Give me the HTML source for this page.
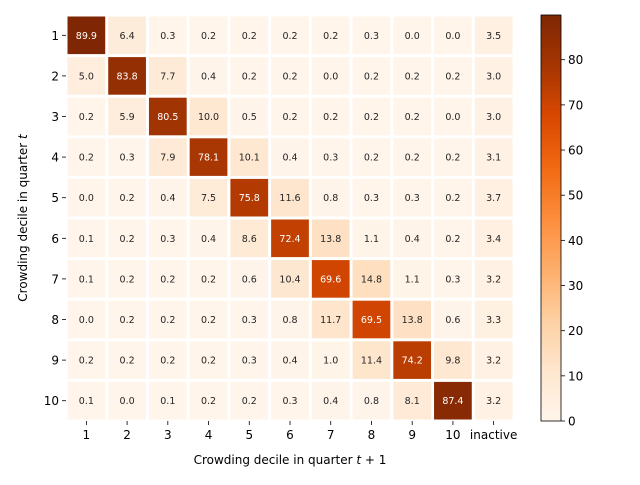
<!DOCTYPE html>
<html><head><meta charset="utf-8"><style>
body{margin:0;background:#fff}
svg text{font-family:"DejaVu Sans","Liberation Sans",sans-serif}
</style></head><body>
<svg id="c" width="640" height="480" xmlns="http://www.w3.org/2000/svg"></svg>
<script>
const rowLabels=["1","2","3","4","5","6","7","8","9","10"];
const colLabels=["1","2","3","4","5","6","7","8","9","10","inactive"];
const row1=[89.9,6.4,0.3,0.2,0.2,0.2,0.2,0.3,0.0,0.0,3.5];
const row2=[5.0,83.8,7.7,0.4,0.2,0.2,0.0,0.2,0.2,0.2,3.0];
const row3=[0.2,5.9,80.5,10.0,0.5,0.2,0.2,0.2,0.2,0.0,3.0];
const row4=[0.2,0.3,7.9,78.1,10.1,0.4,0.3,0.2,0.2,0.2,3.1];
const row5=[0.0,0.2,0.4,7.5,75.8,11.6,0.8,0.3,0.3,0.2,3.7];
const row6=[0.1,0.2,0.3,0.4,8.6,72.4,13.8,1.1,0.4,0.2,3.4];
const row7=[0.1,0.2,0.2,0.2,0.6,10.4,69.6,14.8,1.1,0.3,3.2];
const row8=[0.0,0.2,0.2,0.2,0.3,0.8,11.7,69.5,13.8,0.6,3.3];
const row9=[0.2,0.2,0.2,0.2,0.3,0.4,1.0,11.4,74.2,9.8,3.2];
const row10=[0.1,0.0,0.1,0.2,0.2,0.3,0.4,0.8,8.1,87.4,3.2];
const values=[row1,row2,row3,row4,row5,row6,row7,row8,row9,row10];
const cbTicks=[0,10,20,30,40,50,60,70,80];

const NS="http://www.w3.org/2000/svg";
const svg=document.getElementById('c');
function el(t,a,p){const e=document.createElementNS(NS,t);for(const k in a)e.setAttribute(k,a[k]);(p||svg).appendChild(e);return e;}
const L=66,R=514,T=15,B=421;
const vmax=Math.max(...values.flat()),vmin=0;
const cw=(R-L)/colLabels.length, ch=(B-T)/rowLabels.length;
const xS=i=>L+i*cw, yS=j=>T+j*ch;
const stops=["#fff5eb","#fee6ce","#fdd0a2","#fdae6b","#fd8d3c","#f16913","#d94801","#a63603","#7f2704"];
function hex(h){return [1,3,5].map(i=>parseInt(h.substr(i,2),16));}
function cmap(v){let t=(v-vmin)/(vmax-vmin);t=Math.max(0,Math.min(1,t));const f=t*8,i=Math.min(7,Math.floor(f)),r=f-i;const a=hex(stops[i]),b=hex(stops[i+1]);return `rgb(${a.map((x,k)=>Math.round(x+(b[k]-x)*r)).join(',')})`;}
values.forEach((row,j)=>row.forEach((v,i)=>{
  const r=el('rect',{x:xS(i)+1.5,y:yS(j)+1.5,width:cw-3,height:ch-3,fill:cmap(v)});
  
  
  const t=el('text',{x:xS(i)+cw/2,y:yS(j)+ch/2+3.5,'text-anchor':'middle','font-size':'9.5',fill:v>vmax/2?'#fff':'#262626'});
  t.textContent=v.toFixed(1);
  
  
}));
rowLabels.forEach((s,j)=>{
  const y=yS(j)+ch/2;
  el('line',{x1:L-4,x2:L,y1:y,y2:y,stroke:'#000','stroke-width':0.8});
  const t=el('text',{x:L-7,y:y+4.5,'text-anchor':'end','font-size':'12'});t.textContent=s;
  
  
});
colLabels.forEach((s,i)=>{
  const x=xS(i)+cw/2;
  el('line',{x1:x,x2:x,y1:B,y2:B+4,stroke:'#000','stroke-width':0.8});
  const t=el('text',{x:x,y:B+18,'text-anchor':'middle','font-size':'12'});t.textContent=s;
  
  
});
const xt=el('text',{x:(L+R)/2,y:464,'text-anchor':'middle','font-size':'12'});
xt.innerHTML='Crowding decile in quarter <tspan font-style="italic">t</tspan> + 1';


const yt=el('text',{x:0,y:0,'text-anchor':'middle','font-size':'12',transform:`translate(27,${(T+B)/2}) rotate(-90)`});
yt.innerHTML='Crowding decile in quarter <tspan font-style="italic">t</tspan>';


// colorbar
const CL=541,CR=561;
const g=el('g',{});


const cy=v=>B-(v-vmin)/(vmax-vmin)*(B-T);
for(let k=0;k<200;k++){const v0=vmin+(vmax-vmin)*k/200,v1=vmin+(vmax-vmin)*(k+1)/200;
  el('rect',{x:CL,y:cy(v1),width:CR-CL,height:cy(v0)-cy(v1)+0.5,fill:cmap((v0+v1)/2)},g);}
el('rect',{x:CL,y:T,width:CR-CL,height:B-T,fill:'none',stroke:'#000','stroke-width':0.8},g);
cbTicks.forEach(v=>{const y=cy(v);
  el('line',{x1:CR,x2:CR+4,y1:y,y2:y,stroke:'#000','stroke-width':0.8},g);
  const t=el('text',{x:CR+7,y:y+4.5,'font-size':'12'},g);t.textContent=v;
  
  
});
</script>
</body></html>
